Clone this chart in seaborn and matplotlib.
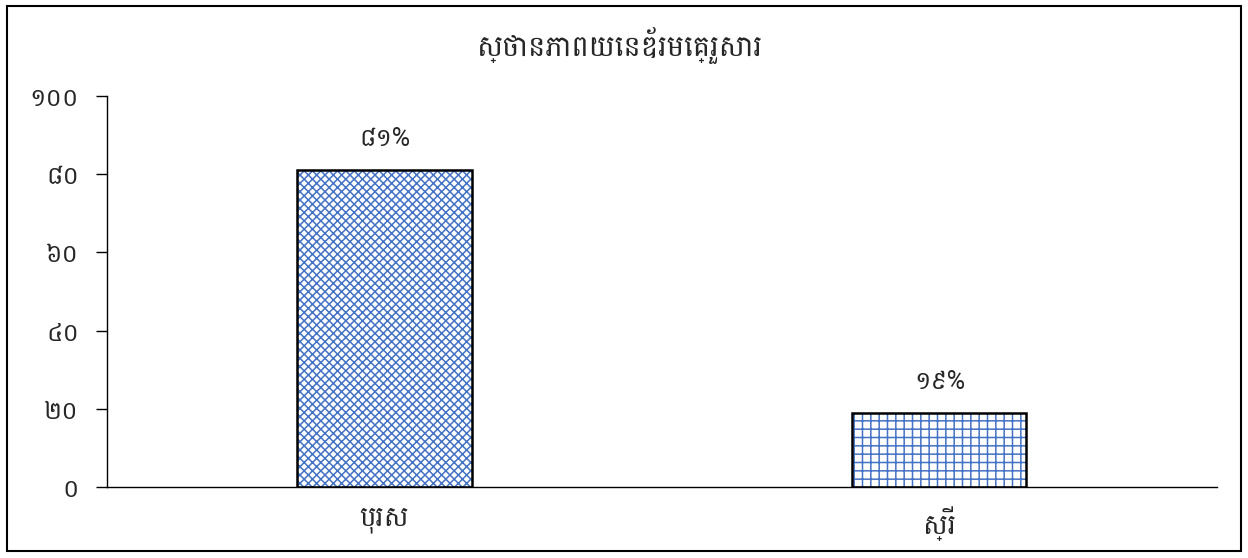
import matplotlib
matplotlib.use("Agg")
import matplotlib.pyplot as plt
from matplotlib import font_manager
from matplotlib.patches import Rectangle
import seaborn as sns
import pandas as pd

title = "ស្ថានភាពយេនឌ័រមេគ្រួសារ"
categories = ["បុរស", "ស្រី"]
values = [81, 19]
bar_labels = ["៨១%", "១៩%"]
ytick_values = [0, 20, 40, 60, 80, 100]
ytick_labels = ["០", "២០", "៤០", "៦០", "៨០", "១០០"]

sns.set_style("white")
names = sorted({f.name for f in font_manager.fontManager.ttflist})
khmer = [n for n in names if "khmer" in n.lower() or "hanuman" in n.lower() or "battambang" in n.lower()]
plt.rcParams['font.family'] = khmer + ['DejaVu Sans']
plt.rcParams['hatch.linewidth'] = 1.1

df = pd.DataFrame({"sex": categories, "value": values})

fig = plt.figure(figsize=(12.48, 5.58), dpi=100)
ax = fig.add_axes([0.0857, 0.1272, 0.8893, 0.7008])
sns.barplot(data=df, x="sex", y="value", ax=ax, width=0.314, color="white",
            linewidth=0, saturation=1)

hatches = ["xxxx", "++"]
for i, (p, h) in enumerate(zip(list(ax.patches), hatches)):
    p.set_hatch(h)
    p.set_edgecolor("#4472C4")
    p.set_linewidth(0)
    ax.add_patch(Rectangle(p.get_xy(), p.get_width(), p.get_height(),
                           fill=False, edgecolor="black", linewidth=1.8, zorder=3))
    ax.text(p.get_x() + p.get_width() / 2, p.get_height() + 8,
            bar_labels[i], ha="center", va="center", fontsize=18)

ax.set_ylim(0, 100)
ax.set_xlim(-0.5, 1.5)
ax.set_yticks(ytick_values)
ax.set_yticklabels(ytick_labels, fontsize=18)
ax.tick_params(axis="y", left=True, direction="out", length=8, width=1, color="black", pad=12)
ax.tick_params(axis="x", length=0, labelsize=20, pad=14)
ax.set_xlabel("")
ax.set_ylabel("")
sns.despine(ax=ax)
for s in ["left", "bottom"]:
    ax.spines[s].set_color("black")
    ax.spines[s].set_linewidth(1)

fig.text(0.497, 0.918, title, ha="center", va="center", fontsize=21)
fig.patches.append(Rectangle((0.006, 0.012), 0.988, 0.978, transform=fig.transFigure,
                             fill=False, edgecolor="black", linewidth=1.5))

fig.savefig("out.png", dpi=100)
